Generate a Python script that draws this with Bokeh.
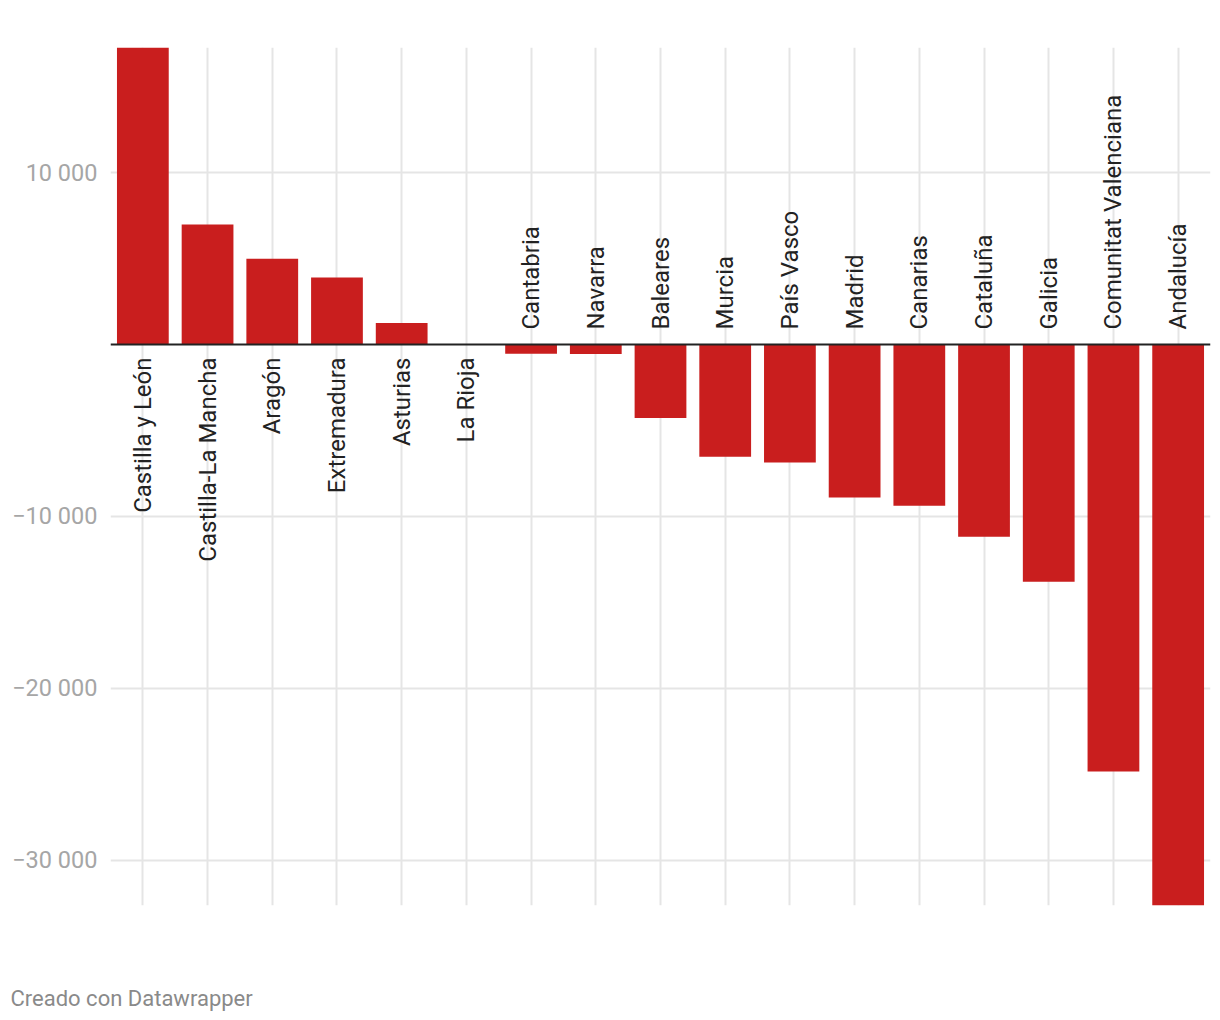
import math
from bokeh.plotting import figure
from bokeh.layouts import column
from bokeh.models import ColumnDataSource, FactorRange, Range1d, FixedTicker, Span, Title
from bokeh.core.properties import value
from bokeh.embed import file_html
from bokeh.resources import INLINE

regions = ["Castilla y León", "Castilla-La Mancha", "Aragón", "Extremadura", "Asturias",
           "La Rioja", "Cantabria", "Navarra", "Baleares", "Murcia", "País Vasco", "Madrid",
           "Canarias", "Cataluña", "Galicia", "Comunitat Valenciana", "Andalucía"]
values = [17270, 6980, 4990, 3890, 1250, 0, -540, -550, -4280, -6520, -6860, -8900,
          -9380, -11180, -13790, -24830, -32620]
y_ticks = [10000, -10000, -20000, -30000]
y_tick_labels = ["10 000", "\u221210 000", "\u221220 000", "\u221230 000"]
footer = "Creado con Datawrapper"

FONT = "Roboto"

src = ColumnDataSource(dict(region=regions, value=values))
pos = ColumnDataSource(dict(region=[r for r, v in zip(regions, values) if v >= 0],
                            y=[0 for v in values if v >= 0]))
neg = ColumnDataSource(dict(region=[r for r, v in zip(regions, values) if v < 0],
                            y=[0 for v in values if v < 0]))

p = figure(x_range=FactorRange(factors=regions, range_padding=0),
           y_range=Range1d(min(values), max(values)),
           width=1212, height=945, output_backend="svg", toolbar_location=None,
           min_border_left=110, min_border_right=2, min_border_top=47, min_border_bottom=40)

p.vbar(x="region", top="value", bottom=0, width=0.8, source=src,
       fill_color="#c91e1e", line_color=None)

p.add_layout(Span(location=0, dimension="width", line_color="#222222", line_width=2))

p.text(x="region", y="y", text="region", source=pos, angle=math.pi / 2,
       text_align="right", text_baseline="middle", y_offset=13,
       text_font=value(FONT), text_font_size="24px", text_color="#222222")
p.text(x="region", y="y", text="region", source=neg, angle=math.pi / 2,
       text_align="left", text_baseline="middle", y_offset=-15,
       text_font=value(FONT), text_font_size="24px", text_color="#222222")

p.outline_line_color = None
p.background_fill_color = "white"
p.border_fill_color = "white"
p.xaxis.visible = False

p.yaxis.ticker = FixedTicker(ticks=y_ticks)
p.yaxis.major_label_overrides = dict(zip(y_ticks, y_tick_labels))
p.yaxis.axis_line_color = None
p.yaxis.major_tick_line_color = None
p.yaxis.minor_tick_line_color = None
p.yaxis.major_label_standoff = 7
p.yaxis.major_label_text_font = FONT
p.yaxis.major_label_text_font_size = "23.5px"
p.yaxis.major_label_text_color = "#a6a6a6"

p.xgrid.grid_line_color = "#e5e5e5"
p.xgrid.grid_line_width = 2
p.ygrid.grid_line_color = "#e5e5e5"
p.ygrid.grid_line_width = 2

# footer strip: the credit line is drawn as a left-aligned title
f = figure(width=1212, height=67, x_range=Range1d(0, 1), y_range=Range1d(0, 1),
           output_backend="svg", toolbar_location=None,
           min_border_left=110, min_border_right=2, min_border_top=0, min_border_bottom=0)
f.axis.visible = False
f.grid.visible = False
f.outline_line_color = None
f.add_layout(Title(text=footer, align="left", offset=-100, standoff=4,
                   text_font=FONT, text_font_size="22px", text_font_style="normal",
                   text_color="#8a8a8a"), "below")

layout = column(p, f, spacing=0)
open("out.html", "w").write(file_html(layout, INLINE))
